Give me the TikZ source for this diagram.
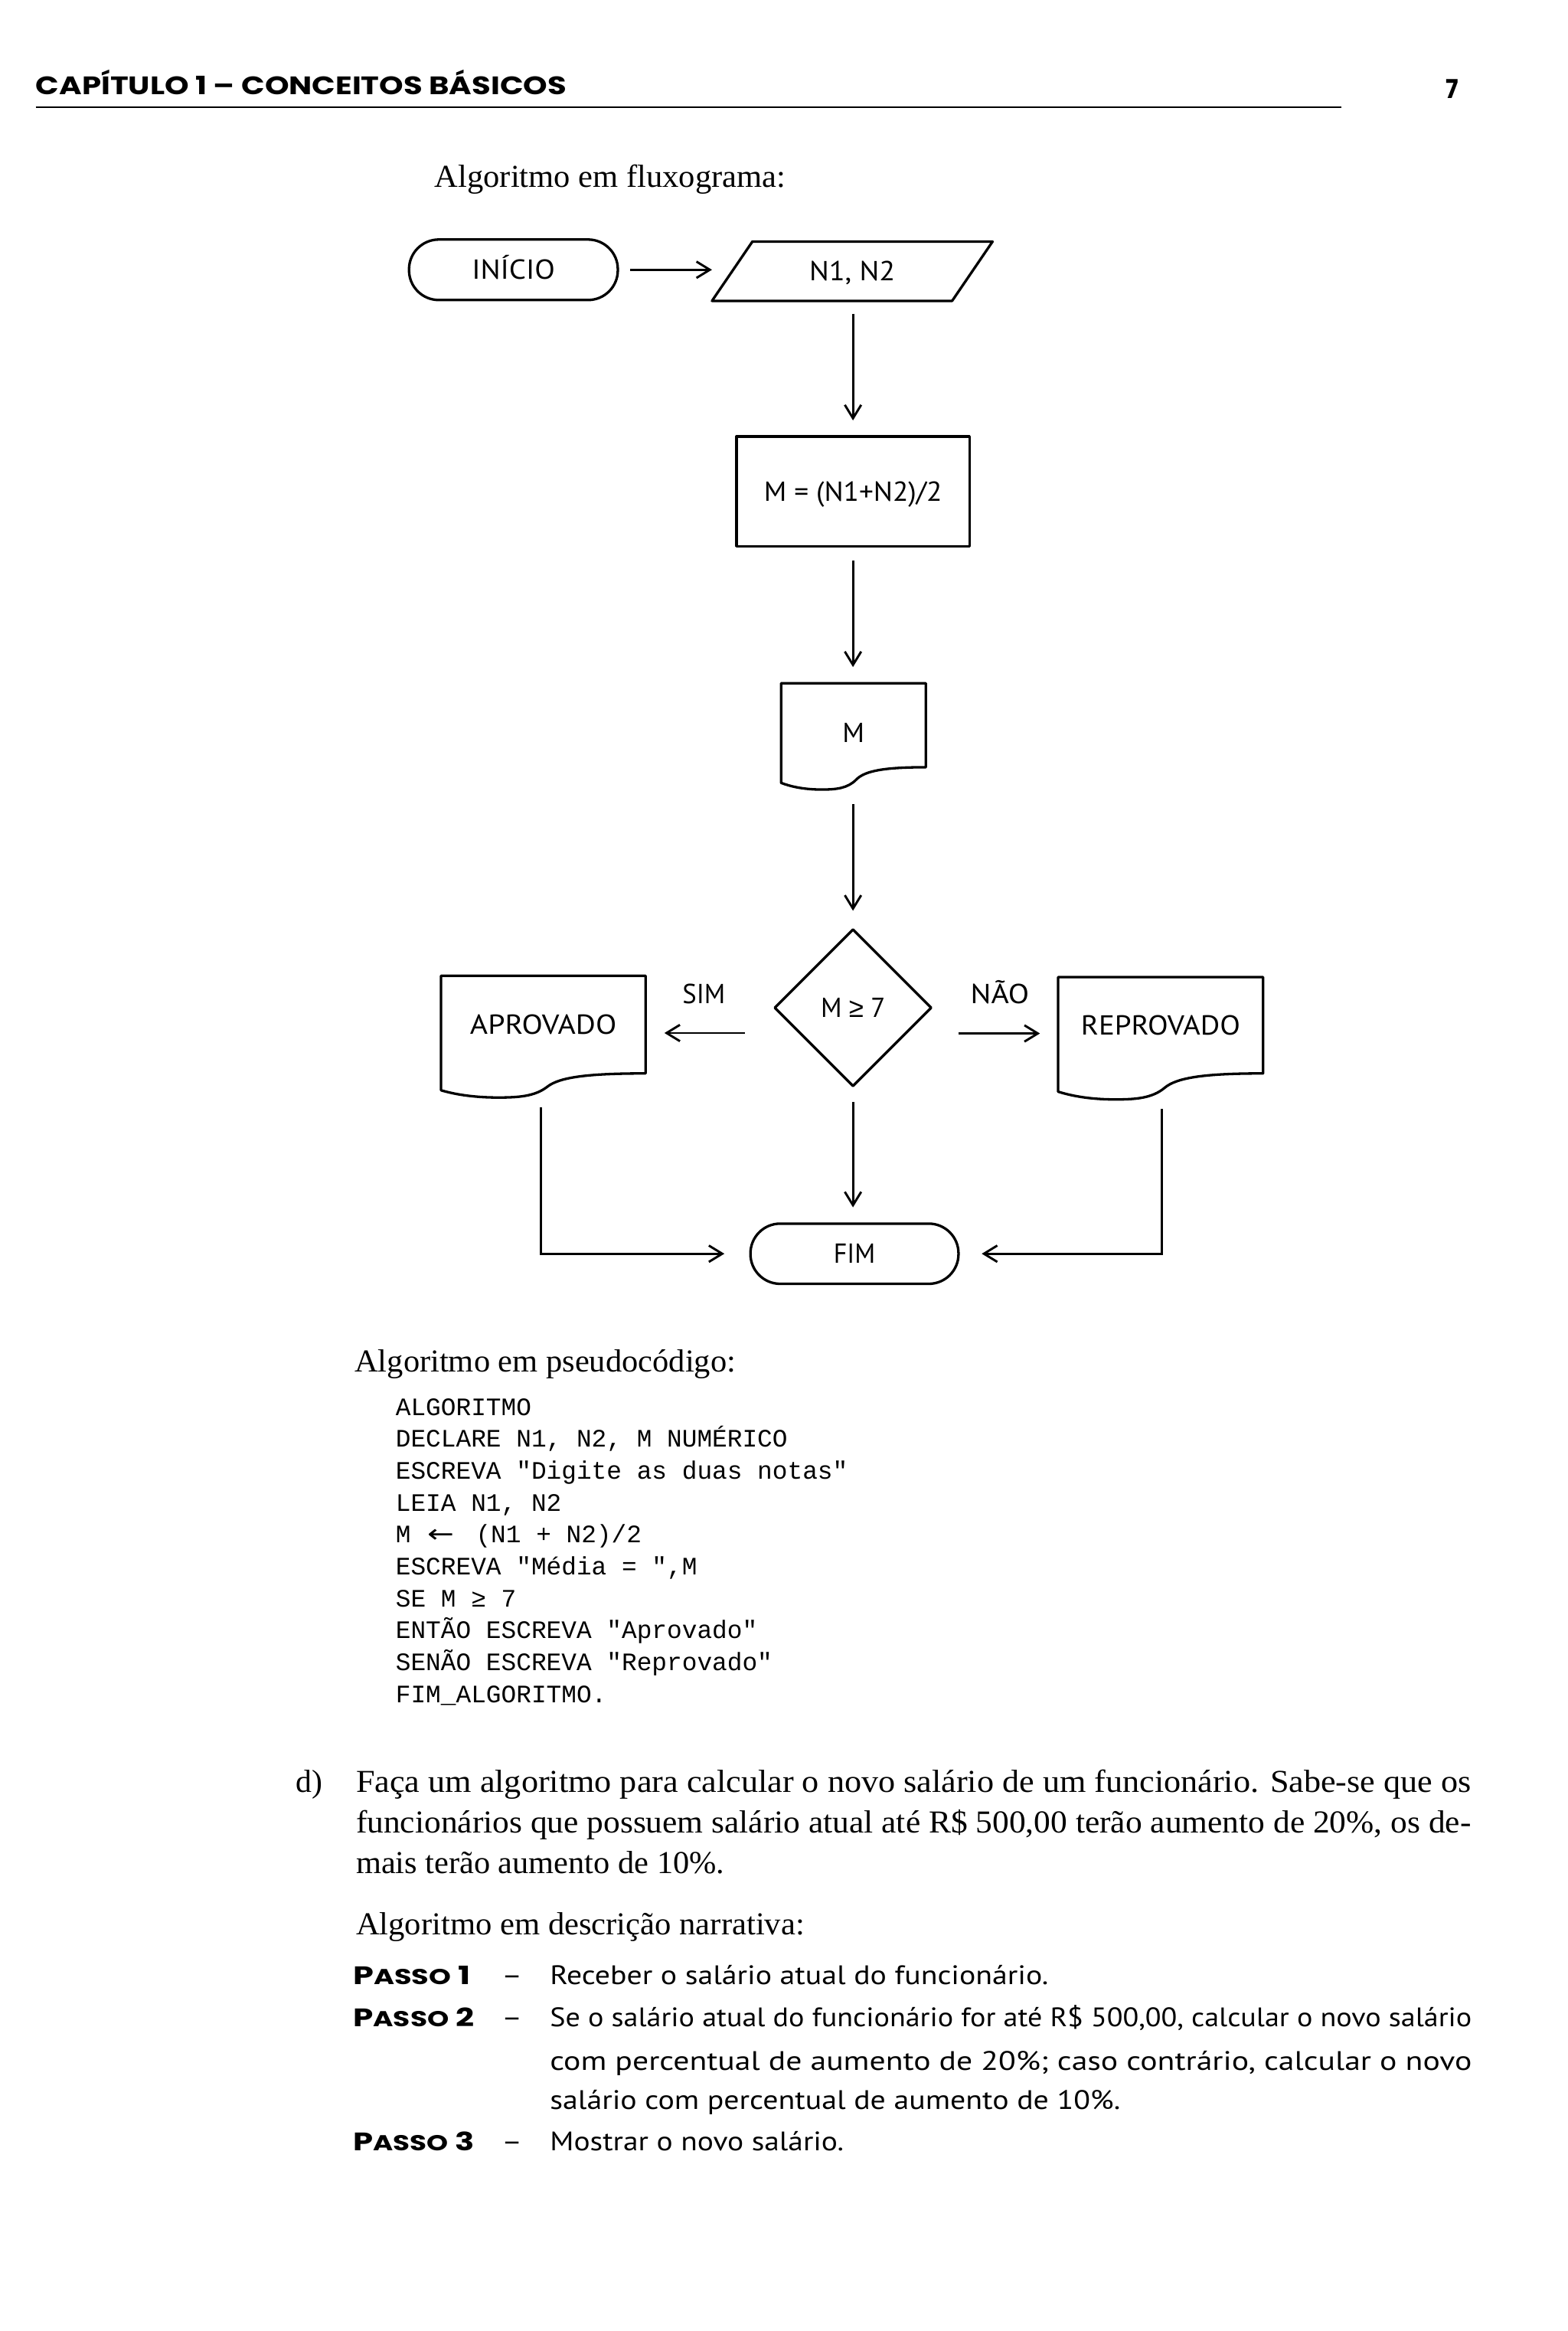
\documentclass[tikz,border=0pt]{standalone}
\usepackage{fontspec}
\usepackage{graphicx}
\setmainfont{Liberation Serif}
\newfontfamily\sansf{PT Sans}
\newfontfamily\monof{Liberation Mono}
\newfontfamily\headf{Poppins}
\newfontfamily\symf{Liberation Sans}
\newfontfamily\djvf{DejaVu Sans}
\usetikzlibrary{arrows.meta,shapes.geometric,calc}
\newcommand\fw[2]{\resizebox{#1pt}{\height}{#2}}
\newcommand\bodyfont{\fontsize{21.5}{24}\selectfont}
\newcommand\codefont{\monof\fontsize{16.9}{20}\selectfont}
\newcommand\narrfont{\sansf\fontsize{18}{20}\selectfont}
\newcommand\passofont{\headf\bfseries\fontsize{17}{19}\selectfont}
\newcommand\docout[2]{%
  \draw[shp] let \p1=(#1.south west), \p2=(#1.north east), \n1={\x2-\x1}, \n2={#2pt} in
    (\x1,\y1-0.7*\n2) -- (\x1,\y2) -- (\x2,\y2) -- (\x2,\y1)
    .. controls (\x2-0.28*\n1,\y1) and (\x1+0.58*\n1,\y1-0.15*\n2) .. (\x1+0.52*\n1,\y1-0.55*\n2)
    .. controls (\x1+0.46*\n1,\y1-0.95*\n2) and (\x1+0.38*\n1,\y1-\n2) .. (\x1+0.28*\n1,\y1-\n2)
    .. controls (\x1+0.15*\n1,\y1-\n2) and (\x1+0.06*\n1,\y1-0.85*\n2) .. cycle;}
\begin{document}
\begin{tikzpicture}[x=1pt,y=-1pt,
  txt/.style={inner sep=0pt, anchor=base west},
  shp/.style={line width=1.7pt, line join=round},
  flab/.style={inner sep=0pt, font=\sansf\fontsize{18.5}{20}\selectfont, text height=13pt, text depth=0pt, align=center},
  term/.style={flab, shp, draw, rounded corners=20pt, minimum width=140.5pt, minimum height=40.7pt},
  procbox/.style={flab, shp, draw, minimum width=156.8pt, minimum height=73.8pt},
  docbox/.style={flab},
  decbox/.style={flab, shp, draw, diamond, minimum width=106pt, minimum height=106pt},
  arr/.style={line width=1.5pt, -{Straight Barb[length=9pt,width=11pt]}},
  conn/.style={line width=1.5pt}
]
\fill[white] (0,0) rectangle (1055.1,1568.3);
\useasboundingbox (0,0) rectangle (1055.1,1568.3);

% header
\node[txt] (head) at (24,63.5) {\headf\bfseries\fontsize{17}{18}\selectfont\fw{357}{CAPÍTULO 1 – CONCEITOS BÁSICOS}};
\coordinate (ruleL) at (24,72.1);
\coordinate (ruleR) at (902.4,72.1);
\draw[line width=1.4pt] (ruleL) -- (ruleR);
\node[inner sep=0pt, anchor=base] (pg) at (977,66) {\headf\bfseries\fontsize{17.5}{18}\selectfont\fw{8.5}{7}};

\node[txt] (t1) at (292.4,126.2) {\bodyfont\fw{236}{Algoritmo em fluxograma:}};

% flowchart
\node[term] (inicio) at (345.5,181.5) {\fw{56}{INÍCIO}};
\node[flab, minimum width=188.4pt, minimum height=39.5pt] (par) at (573.5,182.5) {\fw{57.7}{N1, N2}};
\draw[shp] ([xshift=27.2pt]par.north west) -- (par.north east) -- ([xshift=-27.2pt]par.south east) -- (par.south west) -- cycle;
\node[procbox] (calc) at (574,330.6) {\fw{119.8}{M = (N1+N2)/2}};
\node[docbox, minimum width=97pt, minimum height=56.1pt] (docm) at (574.3,487.95) {};
\docout{docm}{15}
\node[flab] (mlab) at (574.3,493) {\fw{14.8}{M}};
\node[decbox] (dec) at (574,678) {\fw{43.4}{M {\symf ≥} 7}};
\node[docbox, minimum width=137.2pt, minimum height=65.3pt] (apr) at (365.6,689.35) {\fw{98.6}{APROVADO}};
\docout{apr}{16.2}
\node[docbox, minimum width=137.6pt, minimum height=64.4pt] (rep) at (781,689.8) {\fw{107.2}{REPROVADO}};
\docout{rep}{17.5}
\node[term, minimum width=140pt, minimum height=40.5pt] (fim) at (575,843.5) {\fw{28}{FIM}};
\node[flab] (sim) at (473.7,668.6) {\fw{28.8}{SIM}};
\node[flab] (nao) at (672.8,668.6) {\fw{39.4}{NÃO}};

\coordinate (simS) at ([xshift=-19pt,yshift=-17pt]dec.west);
\coordinate (naoS) at ([xshift=17pt,yshift=-17.3pt]dec.east);
\draw[arr, shorten <=7.4pt] (inicio.east) -- (inicio.east -| par.west);
\draw[arr, shorten <=8.6pt, shorten >=10pt] (par.south -| calc.north) -- (calc.north);
\draw[arr, shorten <=8.6pt, shorten >=10.9pt] (calc.south) -- (calc.south |- docm.north);
\draw[arr, shorten <=25pt, shorten >=11.4pt] (docm.south -| dec.north) -- (dec.north);
\draw[arr, shorten >=12.7pt] (simS) -- (simS -| apr.east);
\draw[arr, shorten >=12.2pt] (naoS) -- (naoS -| rep.west);
\draw[arr, shorten <=9.4pt, shorten >=10.1pt] (dec.south) -- (dec.south |- fim.north);
\draw[arr] ([xshift=-1.6pt,yshift=-23pt]apr.south) |- ([xshift=-16.7pt]fim.west);
\draw[arr] ([xshift=1pt,yshift=-23.9pt]rep.south) |- ([xshift=14.8pt]fim.east);

% pseudocode
\node[txt] (t2) at (238.5,923) {\bodyfont\fw{256.4}{Algoritmo em pseudocódigo:}};
\node[txt] (c1) at (266.1,952.2) {\codefont ALGORITMO};
\node[txt] (c2) at (266.1,973.7) {\codefont DECLARE N1, N2, M NUMÉRICO};
\node[txt] (c3) at (266.1,995.1) {\codefont ESCREVA "Digite as duas notas"};
\node[txt] (c4) at (266.1,1016.6) {\codefont LEIA N1, N2};
\node[txt] (c5) at (266.1,1038.1) {\codefont M \makebox[23.5pt][l]{\hspace{1pt}{\djvf\fontsize{17}{20}\selectfont\fw{18}{←}}} (N1 + N2)/2};
\node[txt] (c6) at (266.1,1059.5) {\codefont ESCREVA "Média = ",M};
\node[txt] (c7) at (266.1,1081.0) {\codefont SE M ≥ 7};
\node[txt] (c8) at (266.1,1102.5) {\codefont ENTÃO ESCREVA "Aprovado"};
\node[txt] (c9) at (266.1,1123.9) {\codefont SENÃO ESCREVA "Reprovado"};
\node[txt] (c10) at (266.1,1145.4) {\codefont FIM\_ALGORITMO.};

% item d
\node[txt] (dlab) at (199,1205.6) {\bodyfont d)};
\node[txt] (p1) at (239.4,1205.6) {\bodyfont\fw{750.3}{Faça um algoritmo para calcular o novo salário de um funcionário. Sabe-se que os}};
\node[txt] (p2) at (239.4,1233.0) {\bodyfont\fw{750.3}{funcionários que possuem salário atual até R\$ 500,00 terão aumento de 20\%, os de-}};
\node[txt] (p3) at (239.4,1260.5) {\bodyfont\fw{247.9}{mais terão aumento de 10\%.}};
\node[txt] (t3) at (239.4,1301.8) {\bodyfont\fw{301.8}{Algoritmo em descrição narrativa:}};

% passos
\node[txt] (s1) at (237.4,1335.2) {\passofont\fw{78.9}{P{\fontsize{14.5}{15}\selectfont ASSO} 1}};
\node[txt] (s2) at (237.4,1363.5) {\passofont\fw{81.5}{P{\fontsize{14.5}{15}\selectfont ASSO} 2}};
\node[txt] (s3) at (237.4,1446.8) {\passofont\fw{81.5}{P{\fontsize{14.5}{15}\selectfont ASSO} 3}};
\node[inner sep=0pt, anchor=base] (h1) at (344.5,1335.2) {\narrfont\fw{14}{–}};
\node[inner sep=0pt, anchor=base] (h2) at (344.5,1363.5) {\narrfont\fw{14}{–}};
\node[inner sep=0pt, anchor=base] (h3) at (344.5,1446.8) {\narrfont\fw{14}{–}};
\node[txt] (n1) at (369.9,1335.2) {\narrfont\fw{335.4}{Receber o salário atual do funcionário.}};
\node[txt] (n2a) at (369.9,1363.5) {\narrfont\fw{620.3}{Se o salário atual do funcionário for até R\$ 500,00, calcular o novo salário}};
\node[txt] (n2b) at (369.9,1392.7) {\narrfont\fw{620.3}{com percentual de aumento de 20\%; caso contrário, calcular o novo}};
\node[txt] (n2c) at (369.9,1419.3) {\narrfont\fw{383.8}{salário com percentual de aumento de 10\%.}};
\node[txt] (n3) at (369.9,1446.8) {\narrfont\fw{197.7}{Mostrar o novo salário.}};
\end{tikzpicture}
\end{document}
